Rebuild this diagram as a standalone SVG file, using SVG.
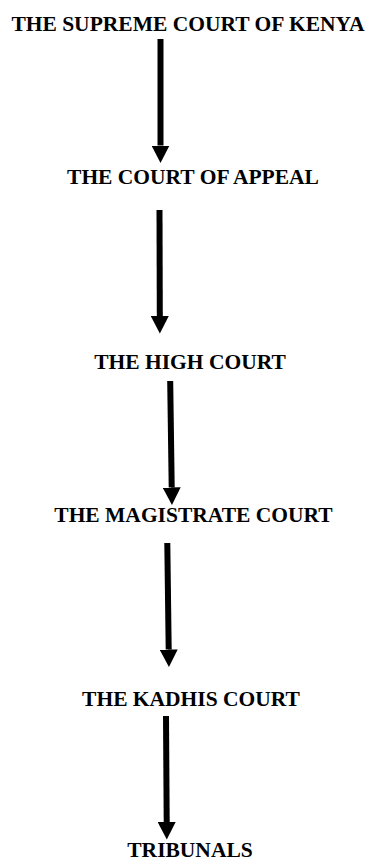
<svg xmlns="http://www.w3.org/2000/svg" width="368" height="861" viewBox="0 0 368 861">
  <style>
    .lbl { font-family: "Liberation Serif", "Times New Roman", serif; font-weight: bold; font-size: 21.5px; fill: #000; text-anchor: middle; }
    .conn { stroke: #000; stroke-width: 6; fill: none; marker-end: url(#head); }
  </style>
  <defs>
    <marker id="head" markerUnits="userSpaceOnUse" markerWidth="18" markerHeight="18" viewBox="0 0 18 18" refX="0" refY="9" orient="auto">
      <path d="M0,0 L17.5,9 L0,18 Z" fill="#000"/>
    </marker>
  </defs>
  <rect width="368" height="861" fill="#fff"/>
  <g id="connectors">
    <line class="conn" x1="160.5" y1="39" x2="160.5" y2="145.5"/>
    <line class="conn" x1="159.5" y1="210" x2="159.8" y2="316"/>
    <line class="conn" x1="170.2" y1="381" x2="171.7" y2="487.5"/>
    <line class="conn" x1="167.3" y1="543" x2="168.7" y2="649.5"/>
    <line class="conn" x1="166" y1="716" x2="166.7" y2="822"/>
  </g>
  <g id="supreme"><text class="lbl" x="188" y="31">THE SUPREME COURT OF KENYA</text></g>
  <g id="appeal"><text class="lbl" x="193" y="183.5">THE COURT OF APPEAL</text></g>
  <g id="high"><text class="lbl" x="190" y="369">THE HIGH COURT</text></g>
  <g id="magistrate"><text class="lbl" x="193.5" y="522">THE MAGISTRATE COURT</text></g>
  <g id="kadhis"><text class="lbl" x="191" y="706">THE KADHIS COURT</text></g>
  <g id="tribunals"><text class="lbl" x="190" y="857">TRIBUNALS</text></g>
</svg>
